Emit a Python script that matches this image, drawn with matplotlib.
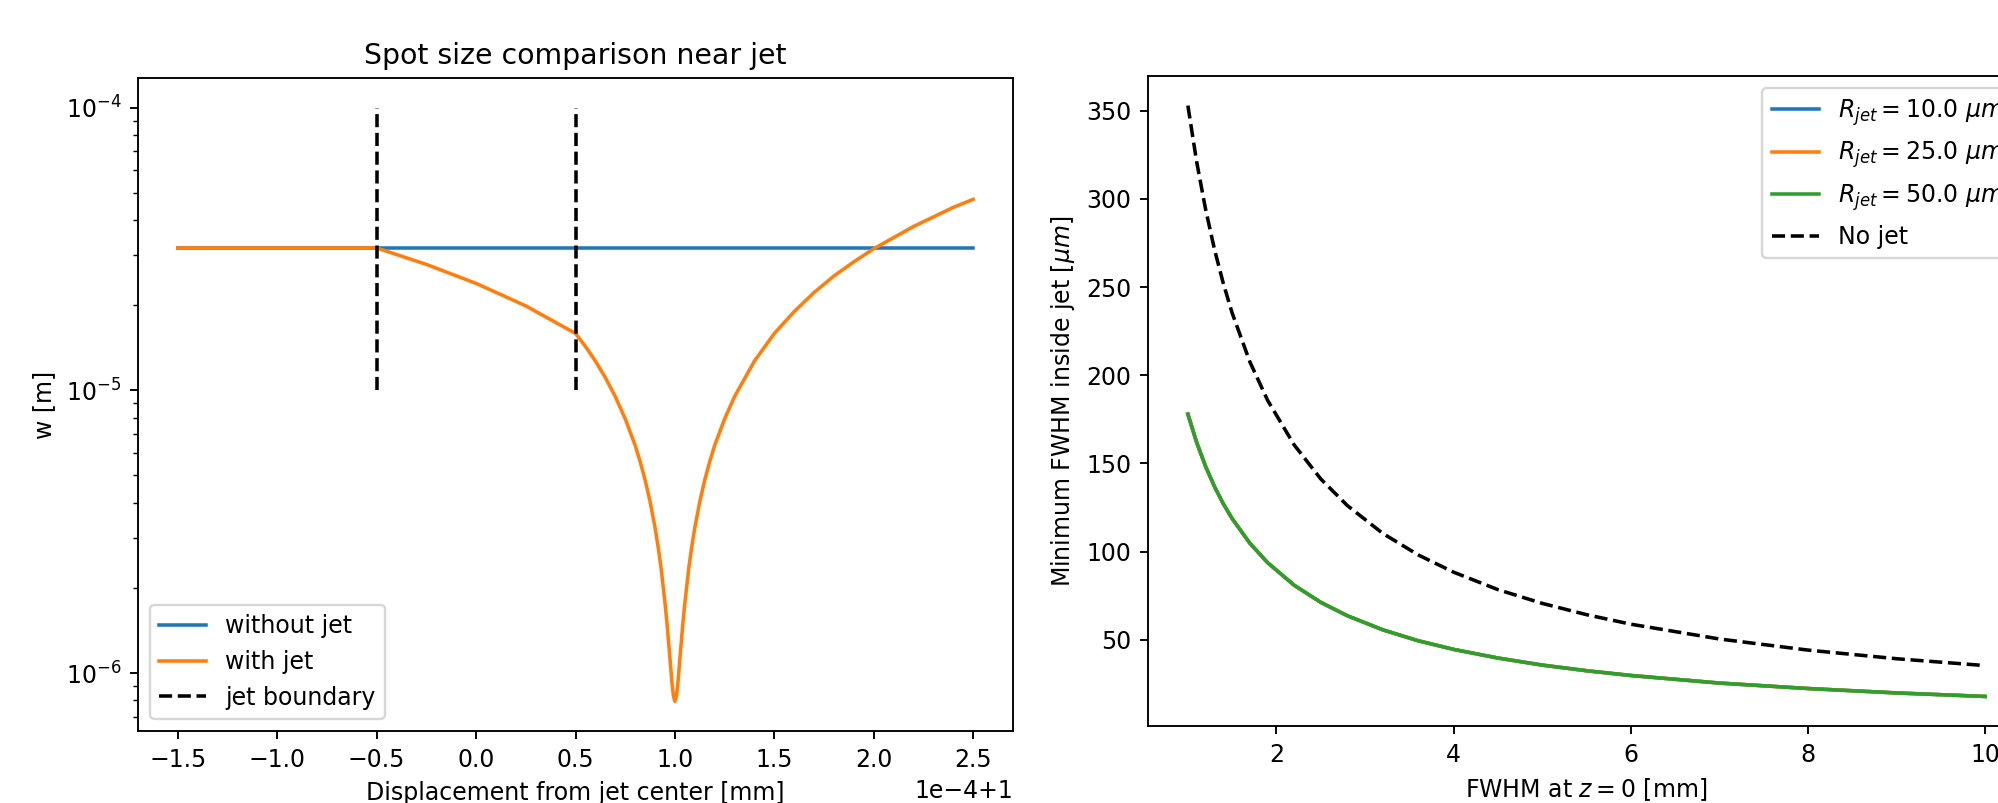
import matplotlib
matplotlib.use("Agg")
import matplotlib.pyplot as plt
import matplotlib.ticker as ticker

# left panel: spot size along z (x in units of 1e-4, shifted by 1)
z_blue = [-1.5, 2.5]
w_blue = [3.19e-5, 3.19e-5]

z_orange = [-1.5, -0.5, -0.25, 0.0, 0.25, 0.5, 0.55, 0.6, 0.65, 0.7, 0.75,
            0.8, 0.825, 0.85, 0.875, 0.9, 0.915, 0.93, 0.95, 0.96, 0.97,
            0.98, 0.985, 0.9925, 1.0, 1.0075, 1.015, 1.02, 1.03, 1.04, 1.05,
            1.07, 1.085, 1.1, 1.125, 1.15, 1.175, 1.2, 1.25, 1.3, 1.4, 1.5,
            1.6, 1.7, 1.8, 1.9, 2.0, 2.2, 2.4, 2.5]
w_orange = [3.19e-5, 3.19e-5, 2.79e-5, 2.39e-5, 1.99e-5, 1.59e-5, 1.43e-5,
            1.27e-5, 1.11e-5, 9.51e-6, 7.93e-6, 6.39e-6, 5.60e-6, 4.82e-6,
            4.04e-6, 3.27e-6, 2.81e-6, 2.36e-6, 1.77e-6, 1.50e-6, 1.24e-6,
            1.02e-6, 9.25e-7, 8.29e-7, 7.94e-7, 8.29e-7, 9.25e-7, 1.02e-6,
            1.24e-6, 1.50e-6, 1.77e-6, 2.36e-6, 2.81e-6, 3.27e-6, 4.04e-6,
            4.82e-6, 5.60e-6, 6.39e-6, 7.93e-6, 9.51e-6, 1.27e-5, 1.59e-5,
            1.90e-5, 2.22e-5, 2.54e-5, 2.85e-5, 3.17e-5, 3.80e-5, 4.44e-5,
            4.74e-5]

jet_edges = [-0.5, 0.5]
jet_w = [1e-5, 1e-4]

# right panel: minimum FWHM vs FWHM at z=0
fwhm0 = [1.0, 1.1, 1.2, 1.3, 1.4, 1.5, 1.7, 1.9, 2.2, 2.5, 2.8, 3.2, 3.6,
         4.0, 4.5, 5.0, 5.5, 6.0, 7.0, 8.0, 9.0, 10.0]
fwhm_jet = [178.0, 161.8, 148.3, 136.9, 127.1, 118.7, 104.7, 93.7, 80.9,
            71.2, 63.6, 55.6, 49.4, 44.5, 39.6, 35.6, 32.4, 29.7, 25.4,
            22.3, 19.8, 17.8]
fwhm_nojet = [353.0, 320.9, 294.2, 271.5, 252.1, 235.3, 207.6, 185.8, 160.5,
              141.2, 126.1, 110.3, 98.1, 88.3, 78.4, 70.6, 64.2, 58.8, 50.4,
              44.1, 39.2, 35.3]
r_jets = [10.0, 25.0, 50.0]


class OffsetFormatter(ticker.ScalarFormatter):
    # old-style "1e-4+1" offset label
    def __call__(self, x, pos=None):
        v = round((x - 1) * 1e4, 6) + 0.0
        return ('%.1f' % v).replace('-', '\u2212')

    def get_offset(self):
        return '1e\u22124+1'


dpi = 170
fig = plt.figure(figsize=(1998 / dpi, 803 / dpi), dpi=dpi)
ax1 = fig.add_axes([138 / 1998, 1 - 731 / 803, 875 / 1998, 653 / 803])
ax2 = fig.add_axes([1148 / 1998, 1 - 726 / 803, 877 / 1998, 650 / 803])

ax1.plot([1 + z * 1e-4 for z in z_blue], w_blue, label='without jet')
ax1.plot([1 + z * 1e-4 for z in z_orange], w_orange, label='with jet')
for i, z in enumerate(jet_edges):
    ax1.plot([1 + z * 1e-4] * 2, jet_w, 'k--',
             label='jet boundary' if i == 0 else None)
ax1.set_yscale('log')
ax1.xaxis.set_major_locator(ticker.MultipleLocator(0.5e-4))
ax1.xaxis.set_major_formatter(OffsetFormatter())
ax1.set_title('Spot size comparison near jet')
ax1.set_xlabel('Displacement from jet center [mm]')
ax1.set_ylabel('w [m]')
ax1.legend(loc='lower left')

for r in r_jets:
    ax2.plot(fwhm0, fwhm_jet, label=r'$R_{jet} = %.1f\ \mu m$' % r)
ax2.plot(fwhm0, fwhm_nojet, 'k--', label='No jet')
ax2.set_xlabel(r'FWHM at $z = 0$ [mm]')
ax2.set_ylabel(r'Minimum FWHM inside jet [$\mu m$]')
ax2.legend(loc='upper right')

fig.savefig('out.png', dpi=dpi)
